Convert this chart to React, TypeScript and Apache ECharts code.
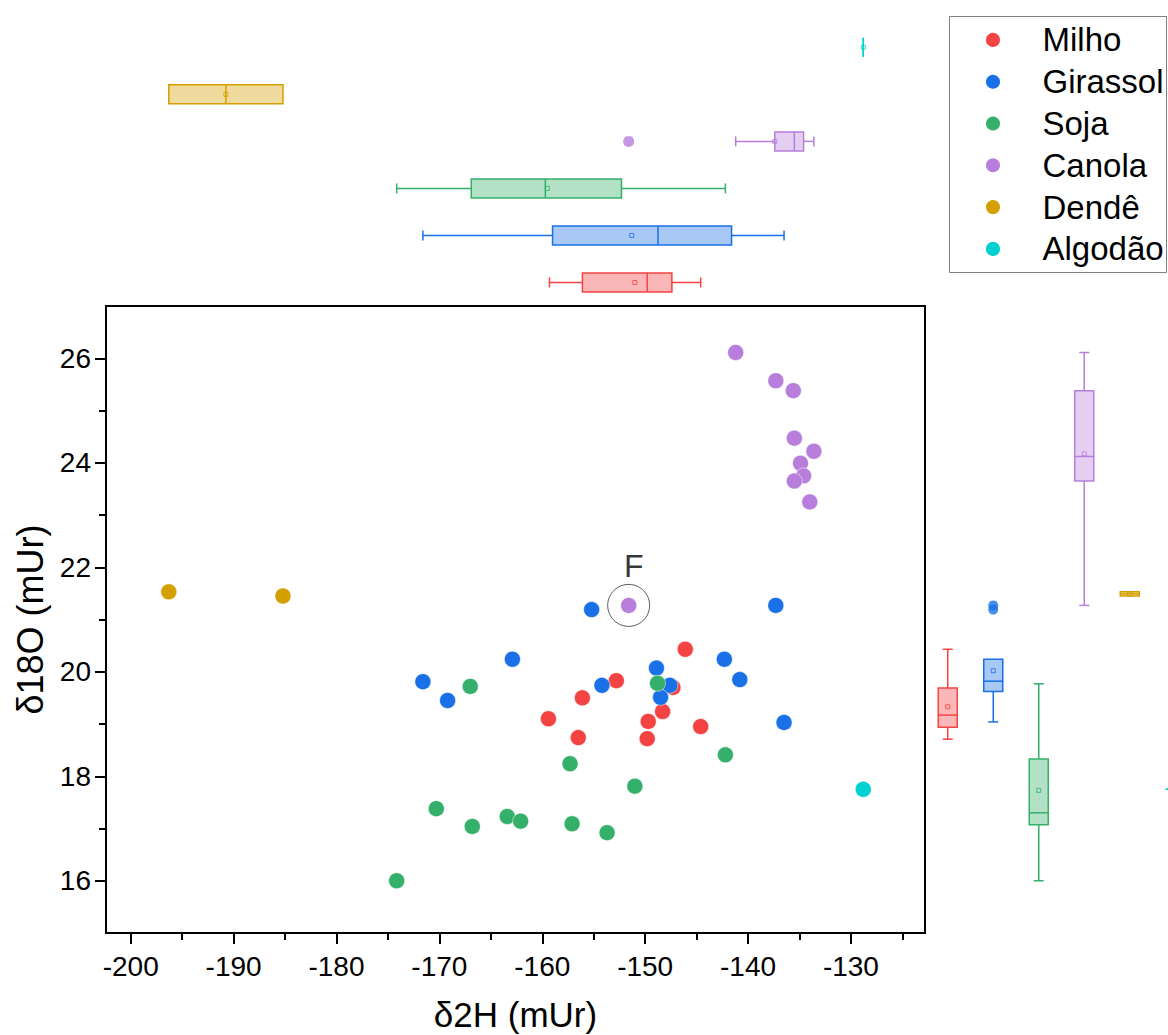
import React, { useEffect, useRef } from 'react';
import * as echarts from 'echarts';

const categories = ['Milho', 'Girassol', 'Soja', 'Canola', 'Dendê', 'Algodão'];
const colors = ['#F44343', '#1A70E6', '#34B06A', '#B87EDC', '#D4A000', '#00D0D0'];

// scatter points [δ2H, δ18O]
const milho = [
  [-146.1, 20.43], [-152.8, 19.83], [-156.1, 19.5], [-159.4, 19.1], [-156.5, 18.74],
  [-147.3, 19.7], [-148.3, 19.24], [-149.7, 19.05], [-149.8, 18.72], [-144.6, 18.95],
];
const girassol = [
  [-171.6, 19.81], [-169.2, 19.45], [-162.9, 20.24], [-155.2, 21.19], [-154.2, 19.74],
  [-148.9, 20.07], [-147.6, 19.74], [-148.5, 19.51], [-142.3, 20.24], [-140.8, 19.85],
  [-137.3, 21.27], [-136.5, 19.03],
];
const soja = [
  [-174.15, 16.0], [-170.3, 17.38], [-167.0, 19.72], [-166.8, 17.04], [-163.4, 17.23],
  [-162.1, 17.14], [-157.3, 18.24], [-157.1, 17.09], [-153.7, 16.92], [-151.0, 17.81],
  [-148.8, 19.78], [-142.2, 18.41],
];
const canola = [
  [-141.2, 26.11], [-137.3, 25.57], [-135.6, 25.38], [-135.5, 24.47], [-133.6, 24.22],
  [-134.9, 23.99], [-134.6, 23.75], [-135.5, 23.65], [-134.0, 23.25], [-151.6, 21.27],
];
const dende = [[-196.3, 21.53], [-185.2, 21.45]];
const algodao = [[-128.8, 17.75]];
const seriesPoints = [milho, girassol, soja, canola, dende, algodao];

// marked sample
const markedPoint = canola[9];
const markedLabel = 'F';

// top marginal box statistics (δ2H), per category
const hMin = [-159.3, -171.6, -174.15, -141.2, -196.3, -128.8];
const hQ1 = [-156.1, -159.0, -166.9, -137.4, -196.3, -128.8];
const hMed = [-149.8, -148.75, -159.7, -135.5, -190.75, -128.8];
const hQ3 = [-147.4, -141.6, -152.3, -134.6, -185.2, -128.8];
const hMax = [-144.6, -136.5, -142.2, -133.6, -185.2, -128.8];
const hMean = [-151.0, -151.3, -159.5, -137.4, -190.75, -128.8];
const hOutliers = [[canola[9][0], 'Canola']];

// right marginal box statistics (δ18O), per category
const vMin = [18.71, 19.04, 16.0, 21.27, 21.45, 17.75];
const vQ1 = [18.94, 19.62, 17.07, 23.65, 21.45, 17.75];
const vMed = [19.17, 19.82, 17.3, 24.12, 21.49, 17.75];
const vQ3 = [19.69, 20.24, 18.33, 25.38, 21.53, 17.75];
const vMax = [20.43, 20.24, 19.77, 26.11, 21.53, 17.75];
const vMean = [19.33, 20.02, 17.73, 24.17, 21.49, 17.75];
const vOutliers = [['Girassol', girassol[3][1]], ['Girassol', girassol[10][1]]];

const xTicks = [-200, -190, -180, -170, -160, -150, -140, -130];
const yTicks = [16, 18, 20, 22, 24, 26];

const FONT = "'Liberation Sans', Arial, Helvetica, sans-serif";

function rgba(hex: string, a: number) {
  const n = parseInt(hex.slice(1), 16);
  return `rgba(${(n >> 16) & 255},${(n >> 8) & 255},${n & 255},${a})`;
}

function boxRender(horizontal: boolean) {
  return (params: any, api: any) => {
    const cat = api.value(0);
    const mn = api.value(1), q1 = api.value(2), md = api.value(3), q3 = api.value(4), mx = api.value(5), mean = api.value(6);
    const c = colors[cat];
    const half = 9.5;
    const cap = 5;
    const p = (v: number) => (horizontal ? api.coord([v, cat]) : api.coord([cat, v]));
    const children: any[] = [];
    const ls = { stroke: c, lineWidth: 1.5 };
    const seg = (a: number, b: number, off1: number, off2: number) => {
      const pa = p(a), pb = p(b);
      if (horizontal) return { type: 'line', shape: { x1: pa[0], y1: pa[1] + off1, x2: pb[0], y2: pb[1] + off2 }, style: ls };
      return { type: 'line', shape: { x1: pa[0] + off1, y1: pa[1], x2: pb[0] + off2, y2: pb[1] }, style: ls };
    };
    if (mn !== q1) {
      children.push(seg(mn, q1, 0, 0));
      children.push(seg(mn, mn, -cap, cap));
    }
    if (mx !== q3) {
      children.push(seg(q3, mx, 0, 0));
      children.push(seg(mx, mx, -cap, cap));
    }
    const a = p(q1), b = p(q3);
    if (horizontal) {
      const x = Math.min(a[0], b[0]);
      children.push({ type: 'rect', shape: { x, y: a[1] - half, width: Math.abs(b[0] - a[0]), height: half * 2 }, style: { fill: rgba(c, 0.38), stroke: c, lineWidth: 1.5 } });
    } else {
      const y = Math.min(a[1], b[1]);
      children.push({ type: 'rect', shape: { x: a[0] - half, y, width: half * 2, height: Math.abs(b[1] - a[1]) }, style: { fill: rgba(c, 0.38), stroke: c, lineWidth: 1.5 } });
    }
    children.push(seg(md, md, -half, half));
    const m = p(mean);
    children.push({ type: 'rect', shape: { x: m[0] - 2, y: m[1] - 2, width: 4, height: 4 }, style: { fill: 'none', stroke: c, lineWidth: 0.8 } });
    return { type: 'group', children };
  };
}

export default function App() {
  const ref = useRef<HTMLDivElement>(null);
  useEffect(() => {
    if (!ref.current) return;
    const chart = echarts.init(ref.current, null, { renderer: 'svg' });

    const xMin = -202.4, xMax = -122.8, yMin = 15, yMax = 27;
    const axisColor = '#000';

    const hBoxData = categories.map((_, i) => [i, hMin[i], hQ1[i], hMed[i], hQ3[i], hMax[i], hMean[i]]);
    const vBoxData = categories.map((_, i) => [i, vMin[i], vQ1[i], vMed[i], vQ3[i], vMax[i], vMean[i]]);

    const option: any = {
      animation: false,
      backgroundColor: '#fff',
      textStyle: { fontFamily: FONT },
      grid: [
        { left: 106, right: 243, top: 306, bottom: 102, show: true, borderColor: '#000', borderWidth: 2, backgroundColor: 'transparent', outerBoundsMode: 'none', containLabel: false },
        { left: 106, right: 243, top: 23.8, bottom: 729, outerBoundsMode: 'none', containLabel: false },
        { left: 925, width: 273, top: 306, bottom: 102, outerBoundsMode: 'none', containLabel: false },
      ],
      xAxis: [
        {
          type: 'value', gridIndex: 0, min: xMin, max: xMax, splitNumber: 8,
          axisLine: { show: true, onZero: false, lineStyle: { color: axisColor, width: 2 } },
          axisTick: { show: true, length: 11, customValues: xTicks, lineStyle: { color: axisColor, width: 2 } },
          minorTick: { show: true, splitNumber: 2, length: 7, lineStyle: { color: axisColor, width: 2 } },
          axisLabel: {
            customValues: xTicks, fontSize: 28, color: '#000', fontFamily: FONT, margin: 19,
            formatter: (v: number) => (xTicks.indexOf(Math.round(v * 1000) / 1000) >= 0 ? String(v) : ''),
          },
          splitLine: { show: false },
          name: 'δ2H (mUr)', nameLocation: 'middle', nameGap: 64,
          nameTextStyle: { fontSize: 35, color: '#000', fontFamily: FONT },
        },
        { type: 'value', gridIndex: 1, min: xMin, max: xMax, show: false, splitLine: { show: false } },
        { type: 'category', gridIndex: 2, data: categories, boundaryGap: true, show: false },
      ],
      yAxis: [
        {
          type: 'value', gridIndex: 0, min: yMin, max: yMax, splitNumber: 6,
          axisLine: { show: true, onZero: false, lineStyle: { color: axisColor, width: 2 } },
          axisTick: { show: true, length: 11, customValues: yTicks, lineStyle: { color: axisColor, width: 2 } },
          minorTick: { show: true, splitNumber: 2, length: 7, lineStyle: { color: axisColor, width: 2 } },
          axisLabel: {
            customValues: yTicks, fontSize: 28, color: '#000', fontFamily: FONT, margin: 15,
            formatter: (v: number) => (yTicks.indexOf(Math.round(v * 1000) / 1000) >= 0 ? String(v) : ''),
          },
          splitLine: { show: false },
          name: 'δ18O (mUr)', nameLocation: 'middle', nameGap: 56, nameRotate: 90,
          nameTextStyle: { fontSize: 36, color: '#000', fontFamily: FONT },
        },
        { type: 'category', gridIndex: 1, data: categories, boundaryGap: true, show: false },
        { type: 'value', gridIndex: 2, min: yMin, max: yMax, show: false, splitLine: { show: false } },
      ],
      legend: {
        data: categories,
        orient: 'vertical', left: 984, top: 23.4, padding: 0,
        itemWidth: 89, itemHeight: 16, itemGap: 8.8, icon: 'circle',
        textStyle: { fontSize: 33, color: '#000', fontFamily: FONT },
        selectedMode: false,
      },
      graphic: [
        { type: 'rect', shape: { x: 949.5, y: 16.5, width: 217, height: 256 }, style: { fill: 'none', stroke: '#808080', lineWidth: 1 }, silent: true },
      ],
      series: [
        ...categories.map((name, i) => ({
          type: 'scatter', name, xAxisIndex: 0, yAxisIndex: 0,
          data: seriesPoints[i], symbol: 'circle', symbolSize: 16,
          itemStyle: { color: colors[i], borderColor: '#fff', borderWidth: 0.5, opacity: 1 },
          z: 3,
        })),
        {
          type: 'scatter', name: 'marked', xAxisIndex: 0, yAxisIndex: 0,
          data: [markedPoint], symbol: 'circle', symbolSize: 42,
          itemStyle: { color: 'rgba(0,0,0,0)', borderColor: '#333', borderWidth: 1 },
          label: { show: true, formatter: markedLabel, position: 'top', distance: 2, offset: [5, 0], fontSize: 32, color: '#000', fontFamily: FONT },
          z: 4, silent: true,
        },
        {
          type: 'custom', name: 'boxTop', xAxisIndex: 1, yAxisIndex: 1,
          renderItem: boxRender(true), data: hBoxData,
          encode: { x: [1, 2, 3, 4, 5, 6], y: 0 }, silent: true,
        },
        {
          type: 'custom', name: 'boxRight', xAxisIndex: 2, yAxisIndex: 2,
          renderItem: boxRender(false), data: vBoxData,
          encode: { x: 0, y: [1, 2, 3, 4, 5, 6] }, silent: true,
        },
        {
          type: 'scatter', name: 'outTop', xAxisIndex: 1, yAxisIndex: 1,
          data: hOutliers, symbol: 'circle', symbolSize: 11,
          itemStyle: { color: colors[3] }, silent: true,
        },
        {
          type: 'scatter', name: 'outRight', xAxisIndex: 2, yAxisIndex: 2,
          data: vOutliers, symbol: 'circle', symbolSize: 10,
          itemStyle: { color: colors[1] }, silent: true,
        },
      ],
    };
    chart.setOption(option);
    return () => chart.dispose();
  }, []);
  return <div ref={ref} style={{ position: 'fixed', left: 0, top: 0, width: 1168, height: 1035 }} />;
}
